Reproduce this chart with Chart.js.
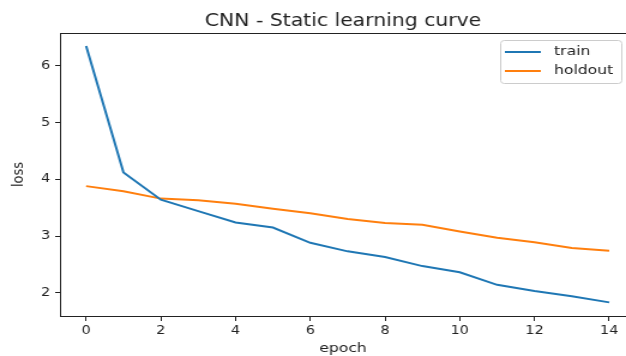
<!DOCTYPE html>
<html>
<head>
<meta charset="utf-8">
<script src="https://cdn.jsdelivr.net/npm/chart.js@4/dist/chart.umd.min.js"></script>
<style>
  html, body { margin:0; padding:0; background:#fff; overflow:hidden; }
</style>
</head>
<body>
<!-- bitmap 522 wide shown at 626px: the reference is stretched ~1.2x horizontally -->
<canvas id="chart" width="522" height="356" style="display:block;width:626px;height:356px"></canvas>
<script>
// ---- Datos
const epochs  = [0, 1, 2, 3, 4, 5, 6, 7, 8, 9, 10, 11, 12, 13, 14];
const train   = [6.35, 4.12, 3.64, 3.44, 3.24, 3.15, 2.88, 2.73, 2.63, 2.47, 2.36, 2.14, 2.03, 1.94, 1.83];
const holdout = [3.88, 3.79, 3.66, 3.63, 3.57, 3.48, 3.40, 3.30, 3.23, 3.20, 3.08, 2.97, 2.89, 2.79, 2.74];
const xTicks  = [0, 2, 4, 6, 8, 10, 12, 14];
const yTicks  = [2, 3, 4, 5, 6];

const INK = '#222';
const FONT = 'DejaVu Sans';

const pts = arr => epochs.map((e, i) => ({ x: e, y: arr[i] }));

// ---- Marco superior + leyenda estilo matplotlib
// (la imagen original está recortada: el eje derecho queda fuera)
const framePlugin = {
    id: 'frame',
    afterDraw(chart){
        const { ctx, chartArea: a } = chart;
        ctx.save();
        ctx.strokeStyle = INK;
        ctx.lineWidth = 1;
        ctx.beginPath();
        ctx.moveTo(a.left, a.top + 0.5);
        ctx.lineTo(a.right, a.top + 0.5);
        ctx.stroke();

        // leyenda
        const bx = a.right - 105, by = a.top + 7, bw = 101, bh = 43;
        ctx.fillStyle = 'rgba(255,255,255,0.8)';
        ctx.strokeStyle = '#ccc';
        ctx.beginPath();
        ctx.roundRect(bx + 0.5, by + 0.5, bw, bh, 3);
        ctx.fill();
        ctx.stroke();
        ctx.font = `13px "${FONT}"`;
        ctx.textBaseline = 'middle';
        chart.data.datasets.forEach((ds, i) => {
            const y = by + 12 + i * 19;
            ctx.strokeStyle = ds.borderColor;
            ctx.lineWidth = ds.borderWidth;
            ctx.beginPath();
            ctx.moveTo(bx + 4, y);
            ctx.lineTo(bx + 34, y);
            ctx.stroke();
            ctx.fillStyle = INK;
            ctx.fillText(ds.label, bx + 45, y);
        });
        ctx.restore();
    }
};

new Chart(document.getElementById('chart'), {
    type: 'line',
    data: {
        datasets: [
            { label: 'train',   data: pts(train),   borderColor: '#1f77b4', borderWidth: 2, pointRadius: 0, tension: 0 },
            { label: 'holdout', data: pts(holdout), borderColor: '#ff7f0e', borderWidth: 2, pointRadius: 0, tension: 0 }
        ]
    },
    options: {
        responsive: false,
        devicePixelRatio: 1,
        animation: false,
        layout: { padding: 0 },
        scales: {
            x: {
                type: 'linear',
                min: -0.7,
                max: 14.45,
                afterBuildTicks: s => { s.ticks = xTicks.map(v => ({ value: v })); },
                afterFit: s => { s.height = 40; },
                grid: { drawOnChartArea: false, tickLength: 5, color: INK, tickColor: INK },
                border: { display: true, color: INK, width: 1 },
                ticks: { color: INK, padding: 3, maxRotation: 0, font: { family: FONT, size: 12 } },
                title: { display: true, text: 'epoch', color: INK, padding: { top: 0, bottom: 0 }, font: { family: FONT, size: 13 } }
            },
            y: {
                min: 1.59,
                max: 6.58,
                afterBuildTicks: s => { s.ticks = yTicks.map(v => ({ value: v })); },
                afterFit: s => { s.width = 50; },
                grid: { drawOnChartArea: false, tickLength: 4, color: INK, tickColor: INK },
                border: { display: true, color: INK, width: 1 },
                ticks: { color: INK, padding: 4, font: { family: FONT, size: 12 } },
                title: { display: true, text: 'loss', color: INK, padding: { top: 8, bottom: 0 }, font: { family: FONT, size: 13 } }
            }
        },
        plugins: {
            legend: { display: false },
            tooltip: { enabled: false },
            title: {
                display: true,
                text: 'CNN - Static learning curve',
                color: INK,
                fullSize: false,
                padding: { top: 11, bottom: 1.6 },
                font: { family: FONT, size: 17, weight: 'normal' }
            }
        }
    },
    plugins: [framePlugin]
});
</script>
</body>
</html>
